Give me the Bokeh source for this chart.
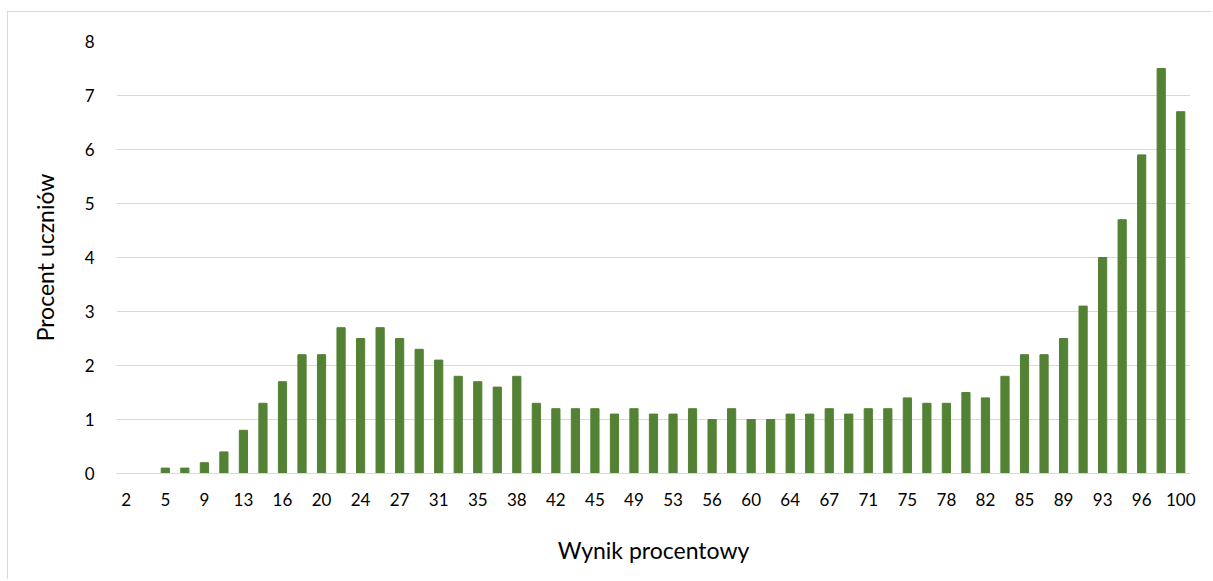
from bokeh.plotting import figure
from bokeh.models import ColumnDataSource, FixedTicker, Range1d
from bokeh.embed import file_html
from bokeh.resources import INLINE

# Category labels (percent score) for each bar, in order
categories = ["2", "4", "5", "7", "9", "11", "13", "15", "16", "18",
              "20", "22", "24", "25", "27", "29", "31", "33", "35", "36",
              "38", "40", "42", "44", "45", "47", "49", "51", "53", "55",
              "56", "58", "60", "62", "64", "65", "67", "69", "71", "73",
              "75", "76", "78", "80", "82", "84", "85", "87", "89", "91",
              "93", "95", "96", "98", "100"]
# Percent of students
values = [0.0, 0.0, 0.1, 0.1, 0.2, 0.4, 0.8, 1.3, 1.7, 2.2,
          2.2, 2.7, 2.5, 2.7, 2.5, 2.3, 2.1, 1.8, 1.7, 1.6,
          1.8, 1.3, 1.2, 1.2, 1.2, 1.1, 1.2, 1.1, 1.1, 1.2,
          1.0, 1.2, 1.0, 1.0, 1.1, 1.1, 1.2, 1.1, 1.2, 1.2,
          1.4, 1.3, 1.3, 1.5, 1.4, 1.8, 2.2, 2.2, 2.5, 3.1,
          4.0, 4.7, 5.9, 7.5, 6.7]
y_ticks = [0, 1, 2, 3, 4, 5, 6, 7, 8]

FONT = "Lato"
idx = list(range(len(categories)))
src = ColumnDataSource(dict(x=idx, top=values, label=categories))

p = figure(width=1204, height=568, output_backend="svg", toolbar_location=None,
           x_range=Range1d(-0.5, len(categories) - 0.5), y_range=Range1d(0, 8),
           min_border_left=108, min_border_right=22, min_border_top=29, min_border_bottom=107)
p.margin = (11, 0, 0, 7)
p.styles = {"border-left": "1px solid #d9d9d9", "border-top": "1px solid #d9d9d9"}

p.vbar(x="x", top="top", width=0.42, source=src, fill_color="#548235", line_color="#548235")

p.outline_line_color = None
p.background_fill_color = "white"
p.border_fill_color = "white"

# x axis: label every other category
p.xaxis.ticker = FixedTicker(ticks=idx[::2])
p.xaxis.major_label_overrides = {i: categories[i] for i in idx[::2]}
p.xaxis.axis_line_color = "#d9d9d9"
p.xaxis.major_tick_line_color = None
p.xaxis.minor_tick_line_color = None
p.xaxis.major_label_text_font = FONT
p.xaxis.major_label_text_font_size = "17px"
p.xaxis.major_label_text_color = "#000000"
p.xaxis.major_label_standoff = 13
p.xaxis.axis_label = "Wynik procentowy"
p.xaxis.axis_label_text_font = FONT
p.xaxis.axis_label_text_font_style = "normal"
p.xaxis.axis_label_text_font_size = "23px"
p.xaxis.axis_label_text_color = "#000000"
p.xaxis.axis_label_standoff = 27

p.yaxis.ticker = FixedTicker(ticks=y_ticks)
p.yaxis.axis_line_color = None
p.yaxis.major_tick_line_color = None
p.yaxis.minor_tick_line_color = None
p.yaxis.major_label_text_font = FONT
p.yaxis.major_label_text_font_size = "17px"
p.yaxis.major_label_text_color = "#000000"
p.yaxis.major_label_standoff = 16
p.yaxis.axis_label = "Procent uczniów"
p.yaxis.axis_label_text_font = FONT
p.yaxis.axis_label_text_font_style = "normal"
p.yaxis.axis_label_text_font_size = "23px"
p.yaxis.axis_label_text_color = "#000000"
p.yaxis.axis_label_standoff = 23

p.xgrid.grid_line_color = None
p.ygrid.grid_line_color = "#d9d9d9"
p.ygrid.grid_line_width = 1

open("out.html", "w").write(file_html(p, INLINE))
